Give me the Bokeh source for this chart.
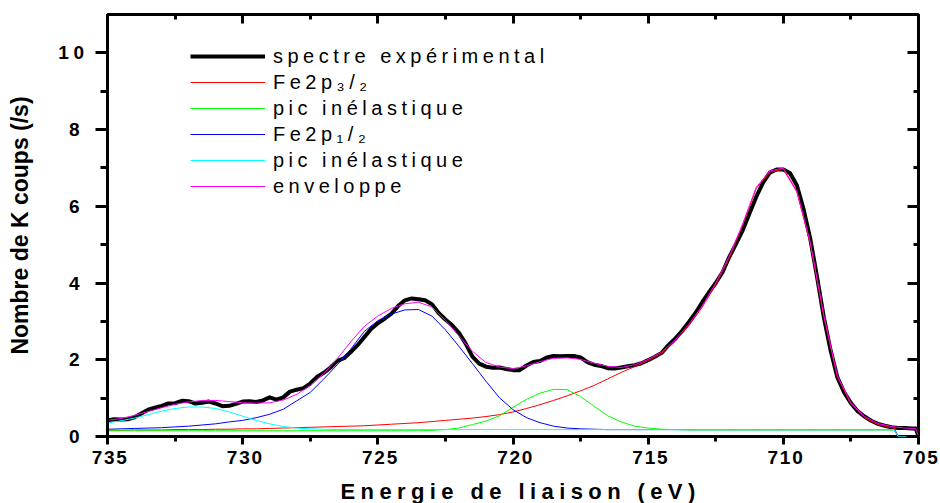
from bokeh.plotting import figure
from bokeh.layouts import row, column
from bokeh.models import (Range1d, LinearAxis, FixedTicker, Legend, Spacer,
                          LegendItem, InlineStyleSheet, Title)
from bokeh.embed import file_html
from bokeh.resources import INLINE

# ---------------- data ----------------
exp_be = [735.00, 734.75, 734.50, 734.25, 734.00, 733.75, 733.50, 733.25, 733.00, 732.75,
          732.50, 732.25, 732.00, 731.75, 731.50, 731.25, 731.00, 730.75, 730.50, 730.25,
          730.00, 729.75, 729.50, 729.25, 729.00, 728.75, 728.50, 728.25, 728.00, 727.75,
          727.50, 727.25, 727.00, 726.75, 726.50, 726.25, 726.00, 725.75, 725.50, 725.25,
          725.00, 724.75, 724.50, 724.25, 724.00, 723.75, 723.50, 723.25, 723.00, 722.75,
          722.50, 722.25, 722.00, 721.75, 721.50, 721.25, 721.00, 720.75, 720.50, 720.25,
          720.00, 719.75, 719.50, 719.25, 719.00, 718.75, 718.50, 718.25, 718.00, 717.75,
          717.50, 717.25, 717.00, 716.75, 716.50, 716.25, 716.00, 715.75, 715.50, 715.25,
          715.00, 714.75, 714.50, 714.25, 714.00, 713.75, 713.50, 713.25, 713.00, 712.75,
          712.50, 712.25, 712.00, 711.75, 711.50, 711.25, 711.00, 710.75, 710.50, 710.25,
          710.00, 709.75, 709.50, 709.25, 709.00, 708.75, 708.50, 708.25, 708.00, 707.75,
          707.50, 707.25, 707.00, 706.75, 706.50, 706.25, 706.00, 705.75, 705.50, 705.25,
          705.10, 705.00]
exp_counts = [0.42, 0.45, 0.44, 0.45, 0.50, 0.60, 0.70, 0.75, 0.80, 0.86,
              0.87, 0.93, 0.92, 0.86, 0.88, 0.91, 0.86, 0.79, 0.80, 0.85,
              0.91, 0.92, 0.90, 0.94, 1.02, 0.96, 1.02, 1.17, 1.22, 1.26,
              1.38, 1.55, 1.66, 1.80, 1.97, 2.04, 2.20, 2.38, 2.59, 2.80,
              2.95, 3.07, 3.20, 3.40, 3.55, 3.60, 3.58, 3.55, 3.45, 3.22,
              3.05, 2.90, 2.70, 2.42, 2.08, 1.90, 1.82, 1.79, 1.80, 1.76,
              1.73, 1.73, 1.85, 1.94, 1.97, 2.06, 2.10, 2.09, 2.10, 2.10,
              2.06, 1.94, 1.87, 1.84, 1.78, 1.77, 1.80, 1.83, 1.86, 1.91,
              1.99, 2.08, 2.18, 2.38, 2.55, 2.75, 2.98, 3.22, 3.50, 3.76,
              4.00, 4.28, 4.68, 5.02, 5.38, 5.82, 6.25, 6.62, 6.88, 6.96,
              6.96, 6.86, 6.55, 5.92, 5.14, 4.15, 3.10, 2.24, 1.54, 1.15,
              0.87, 0.66, 0.52, 0.41, 0.33, 0.28, 0.24, 0.22, 0.22, 0.21,
              0.21, 0.00]

fit_be = [735.0, 734.5, 734.0, 733.5, 733.0, 732.5, 732.0, 731.5, 731.0, 730.5,
          730.0, 729.5, 729.0, 728.5, 728.0, 727.5, 727.0, 726.5, 726.0, 725.5,
          725.0, 724.5, 724.0, 723.5, 723.0, 722.5, 722.0, 721.5, 721.0, 720.5,
          720.0, 719.5, 719.0, 718.5, 718.0, 717.5, 717.0, 716.5, 716.0, 715.5,
          715.0, 714.5, 714.0, 713.5, 713.0, 712.5, 712.0, 711.5, 711.0, 710.5,
          710.0, 709.5, 709.0, 708.5, 708.0, 707.5, 707.0, 706.5, 706.0, 705.9,
          705.75, 705.45]
fe2p32 = [0.16, 0.16, 0.17, 0.17, 0.17, 0.18, 0.18, 0.18, 0.19, 0.19,
          0.20, 0.20, 0.21, 0.22, 0.23, 0.24, 0.25, 0.26, 0.27, 0.28,
          0.30, 0.32, 0.34, 0.36, 0.39, 0.42, 0.45, 0.48, 0.52, 0.57,
          0.64, 0.73, 0.83, 0.94, 1.06, 1.19, 1.33, 1.50, 1.67, 1.82,
          1.98, 2.17, 2.48, 2.88, 3.37, 3.96, 4.66, 5.52, 6.47, 6.89,
          6.97, 6.37, 5.02, 3.12, 1.55, 0.85, 0.49, 0.31, 0.23, 0.22,
          0.00, 0.00]
inel1 = [0.15, 0.15, 0.15, 0.15, 0.15, 0.15, 0.15, 0.15, 0.15, 0.15,
         0.15, 0.15, 0.15, 0.15, 0.15, 0.15, 0.15, 0.15, 0.15, 0.15,
         0.15, 0.15, 0.15, 0.15, 0.16, 0.18, 0.22, 0.31, 0.40, 0.54,
         0.76, 0.97, 1.13, 1.23, 1.22, 1.04, 0.79, 0.54, 0.38, 0.27,
         0.22, 0.19, 0.18, 0.17, 0.17, 0.17, 0.17, 0.17, 0.17, 0.17,
         0.17, 0.17, 0.17, 0.17, 0.17, 0.17, 0.17, 0.17, 0.17, 0.17,
         0.00, 0.00]
fe2p12 = [0.19, 0.20, 0.21, 0.22, 0.23, 0.25, 0.27, 0.30, 0.33, 0.38,
          0.42, 0.49, 0.58, 0.71, 0.93, 1.15, 1.50, 1.87, 2.28, 2.74,
          3.02, 3.19, 3.30, 3.31, 3.14, 2.78, 2.35, 1.90, 1.44, 1.01,
          0.70, 0.49, 0.36, 0.27, 0.22, 0.20, 0.19, 0.18, 0.18, 0.18,
          0.18, 0.18, 0.18, 0.18, 0.18, 0.18, 0.18, 0.18, 0.18, 0.18,
          0.18, 0.18, 0.18, 0.18, 0.18, 0.18, 0.18, 0.18, 0.18, 0.18,
          0.00, 0.00]
inel2 = [0.35, 0.41, 0.48, 0.57, 0.66, 0.73, 0.77, 0.77, 0.73, 0.64,
         0.53, 0.42, 0.33, 0.26, 0.22, 0.20, 0.19, 0.18, 0.18, 0.18,
         0.18, 0.18, 0.18, 0.18, 0.18, 0.18, 0.18, 0.18, 0.18, 0.18,
         0.18, 0.18, 0.18, 0.18, 0.18, 0.18, 0.18, 0.18, 0.18, 0.18,
         0.18, 0.18, 0.18, 0.18, 0.18, 0.18, 0.18, 0.18, 0.18, 0.18,
         0.18, 0.18, 0.18, 0.18, 0.18, 0.18, 0.18, 0.18, 0.18, 0.18,
         0.00, 0.00]

env_be = [735.0, 734.5, 734.0, 733.5, 733.0, 732.5, 732.0, 731.5, 731.0, 730.5,
          730.0, 729.5, 729.0, 728.5, 728.0, 727.5, 727.0, 726.5, 726.0, 725.5,
          725.0, 724.5, 724.0, 723.5, 723.0, 722.5, 722.0, 721.5, 721.0, 720.5,
          720.0, 719.5, 719.0, 718.5, 718.0, 717.5, 717.0, 716.5, 716.0, 715.5,
          715.0, 714.5, 714.0, 713.5, 713.0, 712.5, 712.0, 711.5, 711.0, 710.5,
          710.0, 709.5, 709.0, 708.5, 708.0, 707.5, 707.0, 706.5, 706.0, 705.5,
          705.1, 705.0]
envelope = [0.42, 0.47, 0.55, 0.65, 0.75, 0.84, 0.90, 0.94, 0.94, 0.91,
            0.88, 0.87, 0.88, 0.95, 1.10, 1.33, 1.64, 2.03, 2.47, 2.87,
            3.14, 3.34, 3.46, 3.50, 3.38, 3.03, 2.62, 2.22, 1.93, 1.81,
            1.77, 1.84, 1.95, 2.04, 2.05, 2.01, 1.91, 1.83, 1.80, 1.87,
            2.01, 2.20, 2.52, 2.92, 3.40, 4.00, 4.70, 5.55, 6.50, 6.92,
            7.00, 6.40, 5.05, 3.15, 1.58, 0.88, 0.52, 0.34, 0.26, 0.22,
            0.21, 0.00]

legend_labels = ["spectre expérimental", "Fe2p₃/₂", "pic inélastique",
                 "Fe2p₁/₂", "pic inélastique", "enveloppe"]
x_label = "Energie de liaison (eV)"
y_label = "Nombre de K coups (/s)"
x_major = [705, 710, 715, 720, 725, 730, 735]
x_minor = [707.5, 712.5, 717.5, 722.5, 727.5, 732.5]
y_major = [0, 2, 4, 6, 8, 10]
y_minor = [1, 3, 5, 7, 9]

assert len(exp_be) == len(exp_counts)
for s in (fe2p32, inel1, fe2p12, inel2):
    assert len(s) == len(fit_be)
assert len(env_be) == len(envelope)

FONT = "Liberation Sans"


def spacing(px):
    return [InlineStyleSheet(css=":host { letter-spacing: %spx; }" % px)]


def bare(fig):
    fig.outline_line_color = None
    fig.xgrid.visible = False
    fig.ygrid.visible = False


# ---------------- y label panel (no letter spacing) ----------------
lab = figure(width=41, height=503, output_backend="svg", toolbar_location=None,
             x_range=Range1d(0, 1), y_range=Range1d(0, 1),
             x_axis_location=None, y_axis_location=None,
             min_border_left=0, min_border_right=0, min_border_top=14, min_border_bottom=67,
             background_fill_color="white", border_fill_color="white")
bare(lab)
lab.add_layout(Title(text=y_label, align="center", standoff=0,
                     text_font=FONT, text_font_style="bold", text_font_size="23px",
                     text_color="black"), "left")

# ---------------- main plot ----------------
p = figure(width=895, height=447, x_range=Range1d(735, 705), y_range=Range1d(0, 11),
           output_backend="svg", toolbar_location=None, x_axis_location=None,
           min_border_left=62, min_border_right=22, min_border_top=14, min_border_bottom=11,
           background_fill_color="white", border_fill_color="white")
p.stylesheets = spacing(4.5)
p.xgrid.grid_line_color = None
p.ygrid.grid_line_color = None
p.outline_line_color = "black"
p.outline_line_width = 3

ya = p.yaxis[0]
ya.ticker = FixedTicker(ticks=y_major, minor_ticks=y_minor)
ya.axis_line_width = 3
ya.major_tick_line_width = 3
ya.minor_tick_line_width = 3
ya.major_tick_in = 0
ya.minor_tick_in = 0
ya.major_tick_out = 12
ya.minor_tick_out = 7
ya.major_label_standoff = 16
ya.major_label_text_font = FONT
ya.major_label_text_font_style = "bold"
ya.major_label_text_font_size = "19px"
ya.major_label_text_color = "black"


def tick_axis(ticks, length, side):
    """An axis that only draws ticks (no labels) along one frame edge.
    A positive length points into the frame, a negative one points out of it."""
    t = FixedTicker(ticks=[], minor_ticks=ticks)
    a = LinearAxis(ticker=t, axis_line_color=None, major_tick_in=0, major_tick_out=0,
                   minor_tick_in=length, minor_tick_out=0,
                   minor_tick_line_width=3, major_label_standoff=0, axis_label_standoff=0)
    p.add_layout(a, side)


tick_axis(x_major, 9, "above")
tick_axis(x_minor, 5, "above")
tick_axis(y_major, 11, "right")
tick_axis(y_minor, 5, "right")
tick_axis(x_major, -8, "below")
tick_axis(x_minor, -5, "below")

# ---------------- curves ----------------
r_exp = p.line(exp_be, exp_counts, line_color="black", line_width=4, line_join="round")
r_32 = p.line(fit_be, fe2p32, line_color="#FF0000", line_width=1)
r_in1 = p.line(fit_be, inel1, line_color="#00FF00", line_width=1)
r_12 = p.line(fit_be, fe2p12, line_color="#0000FF", line_width=1)
r_in2 = p.line(fit_be, inel2, line_color="#00FFFF", line_width=1)
r_env = p.line(env_be, envelope, line_color="#FF00FF", line_width=1)

legend = Legend(items=[LegendItem(label=l, renderers=[r]) for l, r in
                       zip(legend_labels, [r_exp, r_32, r_in1, r_12, r_in2, r_env])],
                location=(83, 237), padding=0, margin=0, spacing=0,
                glyph_width=75, glyph_height=26, label_height=26, label_standoff=8,
                label_text_font=FONT, label_text_font_size="20px",
                label_text_color="black",
                border_line_color=None, background_fill_alpha=0)
p.add_layout(legend)

# ---------------- x tick labels strip ----------------
ticks_fig = figure(width=895, height=25, x_range=p.x_range, y_range=Range1d(0, 1),
                   output_backend="svg", toolbar_location=None,
                   x_axis_location="above", y_axis_location=None,
                   min_border_left=62, min_border_right=22, min_border_top=0,
                   min_border_bottom=0,
                   background_fill_color="white", border_fill_color="white")
ticks_fig.stylesheets = spacing(1.8)
bare(ticks_fig)
xa = ticks_fig.xaxis[0]
xa.ticker = FixedTicker(ticks=x_major, minor_ticks=[])
xa.axis_line_color = None
xa.major_tick_in = 0
xa.major_tick_out = 0
xa.minor_tick_in = 0
xa.minor_tick_out = 0
xa.major_label_standoff = 0
xa.major_label_text_font = FONT
xa.major_label_text_font_style = "bold"
xa.major_label_text_font_size = "19px"
xa.major_label_text_color = "black"

# ---------------- x axis title strip ----------------
title_fig = figure(width=895, height=31, x_range=Range1d(0, 1), y_range=Range1d(0, 1),
                   output_backend="svg", toolbar_location=None,
                   x_axis_location=None, y_axis_location=None,
                   min_border_left=62, min_border_right=22, min_border_top=0,
                   min_border_bottom=0,
                   background_fill_color="white", border_fill_color="white")
title_fig.stylesheets = spacing(5.4)
bare(title_fig)
title_fig.add_layout(Title(text=x_label, align="left", offset=233, standoff=0,
                           text_font=FONT, text_font_style="bold", text_font_size="22px",
                           text_color="black"), "below")

layout = row(Spacer(width=4, height=503), lab, column(p, ticks_fig, title_fig))
open("out.html", "w").write(file_html(layout, INLINE))
